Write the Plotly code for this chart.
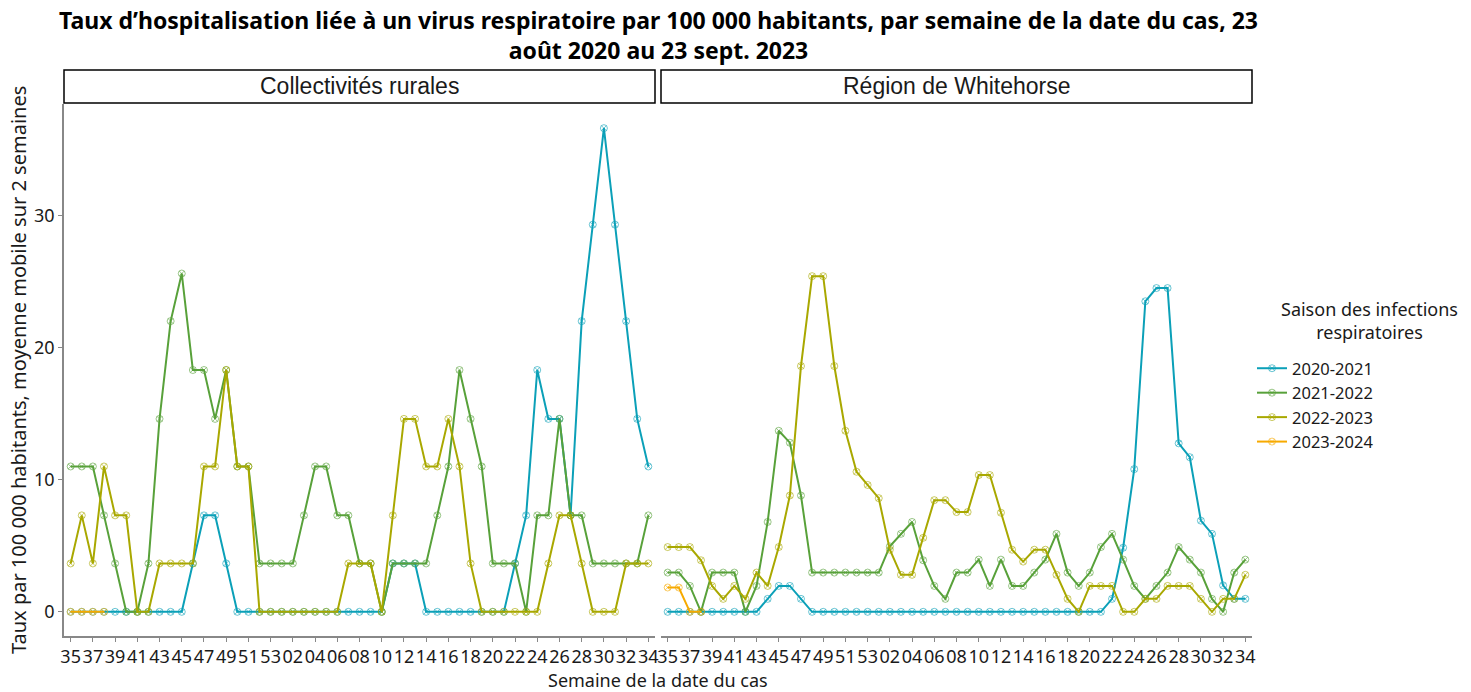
import plotly.graph_objects as go
from plotly.subplots import make_subplots

weeks = [str(w) for w in range(35, 54)] + [f"{w:02d}" for w in range(1, 35)]
tick_weeks = weeks[::2]

seasons = ["2020-2021", "2021-2022", "2022-2023", "2023-2024"]
colors = ["#0BA0B8", "#58A13A", "#A9A800", "#F7AA00"]

# Collectivités rurales
rural_2020 = [0, 0, 0, 0, 0, 0, 0, 0, 0, 0, 0, 3.66, 7.3, 7.3, 3.66, 0, 0, 0, 0, 0,
              0, 0, 0, 0, 0, 0, 0, 0, 0, 3.66, 3.66, 3.66, 0, 0, 0, 0, 0, 0, 0, 0,
              3.66, 7.3, 18.3, 14.6, 14.6, 7.3, 22, 29.3, 36.6, 29.3, 22, 14.6, 11]
rural_2021 = [11, 11, 11, 7.3, 3.66, 0, 0, 3.66, 14.6, 22, 25.6, 18.3, 18.3, 14.6, 18.3, 11, 11, 3.66, 3.66, 3.66,
              3.66, 7.3, 11, 11, 7.3, 7.3, 3.66, 3.66, 0, 3.66, 3.66, 3.66, 3.66, 7.3, 11, 18.3, 14.6, 11, 3.66, 3.66,
              3.66, 0, 7.3, 7.3, 14.6, 7.3, 7.3, 3.66, 3.66, 3.66, 3.66, 3.66, 7.3]
rural_2022 = [3.66, 7.3, 3.66, 11, 7.3, 7.3, 0, 0, 3.66, 3.66, 3.66, 3.66, 11, 11, 18.3, 11, 11, 0, 0, 0,
              0, 0, 0, 0, 0, 3.66, 3.66, 3.66, 0, 7.3, 14.6, 14.6, 11, 11, 14.6, 11, 3.66, 0, 0, 0,
              0, 0, 0, 3.66, 7.3, 7.3, 3.66, 0, 0, 0, 3.66, 3.66, 3.66]
rural_2023 = [0, 0, 0, 0]

# Région de Whitehorse
wh_2020 = [0, 0, 0, 0, 0, 0, 0, 0, 0, 0.98, 1.96, 1.96, 0.98, 0, 0, 0, 0, 0, 0, 0,
           0, 0, 0, 0, 0, 0, 0, 0, 0, 0, 0, 0, 0, 0, 0, 0, 0, 0, 0, 0,
           0.98, 4.85, 10.8, 23.5, 24.5, 24.5, 12.75, 11.7, 6.9, 5.9, 2.0, 0.98, 0.98]
wh_2021 = [2.97, 2.97, 1.96, 0, 2.97, 2.97, 2.97, 0, 1.96, 6.8, 13.7, 12.8, 8.8, 2.97, 2.97, 2.97, 2.97, 2.97, 2.97, 2.97,
           4.95, 5.9, 6.8, 3.9, 1.96, 0.98, 2.97, 2.97, 3.95, 1.96, 3.95, 1.96, 1.96, 2.97, 3.95, 5.9, 2.97, 1.96, 2.97, 4.9,
           5.9, 3.95, 1.96, 0.98, 1.96, 2.97, 4.9, 3.95, 2.97, 0.98, 0, 2.97, 3.95]
wh_2022 = [4.9, 4.9, 4.9, 3.9, 1.96, 0.98, 1.96, 0.98, 2.97, 1.96, 4.9, 8.8, 18.6, 25.4, 25.4, 18.6, 13.7, 10.6, 9.6, 8.6,
           4.7, 2.8, 2.8, 5.6, 8.45, 8.45, 7.55, 7.55, 10.35, 10.35, 7.5, 4.7, 3.8, 4.7, 4.7, 2.8, 0.98, 0, 1.96, 1.96,
           1.96, 0, 0, 0.98, 0.98, 1.96, 1.96, 1.96, 0.98, 0, 0.98, 0.98, 2.8]
wh_2023 = [1.84, 1.84, 0, 0]

panels = [
    [rural_2020, rural_2021, rural_2022, rural_2023],
    [wh_2020, wh_2021, wh_2022, wh_2023],
]
panel_titles = ["Collectivités rurales", "Région de Whitehorse"]

fig = make_subplots(rows=1, cols=2, shared_yaxes=True, horizontal_spacing=0.005)

for p, series in enumerate(panels):
    for s, vals in enumerate(series):
        fig.add_trace(go.Scatter(
            x=weeks[:len(vals)], y=vals, mode="lines+markers",
            name=seasons[s], showlegend=(p == 0),
            line=dict(color=colors[s], width=2),
            marker=dict(symbol="circle-x-open", size=7, color=colors[s], opacity=0.6,
                        line=dict(width=1)),
        ), row=1, col=p + 1)

FONT = "Noto Sans, Lato, sans-serif"
axis_font = dict(family=FONT, size=18, color="#1a1a1a")
for c in (1, 2):
    fig.update_xaxes(type="category", categoryorder="array", categoryarray=weeks,
                     tickmode="array", tickvals=tick_weeks, ticktext=tick_weeks,
                     range=[-0.6, len(weeks) - 0.4], showgrid=False, zeroline=False,
                     showline=True, linecolor="#888888", linewidth=1.5,
                     ticks="outside", ticklen=4, tickcolor="#888888", tickfont=axis_font,
                     tickangle=0, row=1, col=c)
fig.update_yaxes(range=[-1.83, 38.43], tickvals=[0, 10, 20, 30], showgrid=False, zeroline=False,
                 showline=True, linecolor="#888888", linewidth=1.5, ticks="outside", ticklen=4,
                 tickcolor="#888888", tickfont=axis_font, row=1, col=1)
fig.update_yaxes(range=[-1.83, 38.43], showgrid=False, zeroline=False, showline=False,
                 showticklabels=False, ticks="", row=1, col=2)

fig.update_xaxes(domain=[0, 591 / 1188], row=1, col=1)
fig.update_xaxes(domain=[597 / 1188, 1], row=1, col=2)

# Facet strips
strip_y0 = 1 + 1 / 532
strip_y1 = 1 + 34 / 532
for (d0, d1), t in zip([(0, 591 / 1188), (597 / 1188, 1)], panel_titles):
    fig.add_shape(type="rect", xref="paper", yref="paper", x0=d0, x1=d1, y0=strip_y0, y1=strip_y1,
                  line=dict(color="black", width=1.5), fillcolor="white", layer="above")
    fig.add_annotation(x=(d0 + d1) / 2, y=(strip_y0 + strip_y1) / 2, xref="paper", yref="paper",
                       text=t, showarrow=False, xanchor="center", yanchor="middle",
                       font=dict(family="Liberation Sans Narrow, Liberation Sans, sans-serif", size=23,
                                 color="#1a1a1a"))

fig.add_annotation(x=0.5, y=1 + 69 / 532, xref="paper", yref="paper",
                   text="<b>Taux d’hospitalisation liée à un virus respiratoire par 100 000 habitants, par semaine de la date du cas, 23<br>août 2020 au 23 sept. 2023</b>",
                   showarrow=False, xanchor="center", yanchor="middle", align="center",
                   font=dict(family="Noto Sans, sans-serif", size=23, color="black"))

fig.add_annotation(x=0.5, y=-44 / 532, xref="paper", yref="paper", text="Semaine de la date du cas",
                   showarrow=False, xanchor="center", yanchor="middle",
                   font=dict(family=FONT, size=18, color="#1a1a1a"))
fig.add_annotation(x=-46 / 1188, y=0.5, xref="paper", yref="paper",
                   text="Taux par 100 000 habitants, moyenne mobile sur 2 semaines",
                   showarrow=False, textangle=-90, xanchor="center", yanchor="middle",
                   font=dict(family=FONT, size=20, color="#1a1a1a"))

# Legend title
fig.add_annotation(x=(1369 - 64) / 1188, y=(636 - 320) / 532, xref="paper", yref="paper",
                   text="Saison des infections<br>respiratoires", showarrow=False,
                   xanchor="center", yanchor="middle", align="center",
                   font=dict(family=FONT, size=18, color="#1a1a1a"))

fig.update_layout(
    width=1471, height=692,
    margin=dict(l=64, r=219, t=104, b=56),
    paper_bgcolor="white", plot_bgcolor="white",
    legend=dict(x=(1252 - 64) / 1188, y=(636 - 351) / 532, xanchor="left", yanchor="top",
                font=dict(family=FONT, size=16.5, color="#1a1a1a"),
                tracegroupgap=0, itemwidth=30, bgcolor="rgba(0,0,0,0)"),
)

fig.write_html("out.html", post_script="document.body.style.margin='0';",
               config={"displayModeBar": False})
